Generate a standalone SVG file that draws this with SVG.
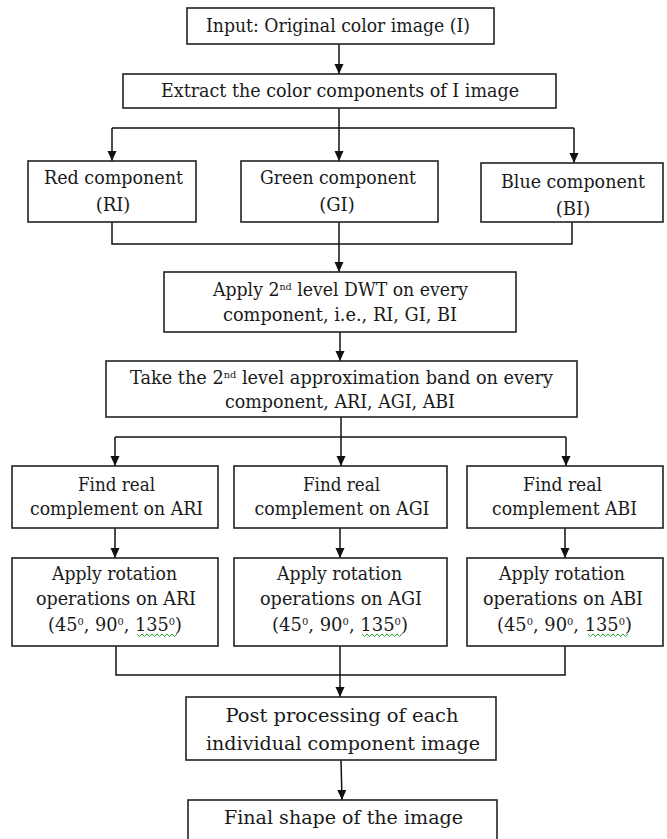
<svg xmlns="http://www.w3.org/2000/svg" width="667" height="839" viewBox="0 0 667 839">
<defs>
<marker id="ah" markerUnits="userSpaceOnUse" markerWidth="10" markerHeight="10" refX="10" refY="4.5" orient="auto">
<path d="M0,0 L10,4.5 L0,9 Z" fill="#111"/>
</marker>
<style>
.box{fill:#fff;stroke:#222;stroke-width:1.6}
.t{font-family:"DejaVu Serif","Liberation Serif",serif;font-size:18px;fill:#1a1a1a;text-anchor:middle}
.c{fill:none;stroke:#111;stroke-width:1.5}
.a{fill:none;stroke:#111;stroke-width:1.5;marker-end:url(#ah)}
.sq{fill:none;stroke:#2ca02c;stroke-width:1}
</style>
</defs>
<rect width="667" height="839" fill="#fff"/>

<g id="connectors">
<line class="a" x1="339" y1="44" x2="339" y2="74"/>
<polyline class="c" points="339,108 339,128"/>
<polyline class="c" points="112,128 574,128"/>
<line class="a" x1="112" y1="128" x2="112" y2="161"/>
<line class="a" x1="339" y1="128" x2="339" y2="161"/>
<line class="a" x1="574" y1="128" x2="574" y2="163"/>
<polyline class="c" points="112,222 112,244 572,244 572,222"/>
<line class="c" x1="339" y1="222" x2="339" y2="244"/>
<line class="a" x1="339" y1="244" x2="339" y2="272"/>
<line class="a" x1="340" y1="332" x2="340" y2="361"/>
<line class="c" x1="341" y1="417" x2="341" y2="437"/>
<line class="c" x1="115" y1="437" x2="566" y2="437"/>
<line class="a" x1="115" y1="437" x2="115" y2="466"/>
<line class="a" x1="341" y1="437" x2="341" y2="466"/>
<line class="a" x1="566" y1="437" x2="566" y2="466"/>
<line class="a" x1="115" y1="528" x2="115" y2="558"/>
<line class="a" x1="340" y1="528" x2="340" y2="558"/>
<line class="a" x1="565" y1="528" x2="565" y2="558"/>
<polyline class="c" points="116,646 116,675 565,675 565,646"/>
<line class="c" x1="340" y1="646" x2="340" y2="675"/>
<line class="a" x1="340" y1="675" x2="340" y2="697"/>
<line class="a" x1="341" y1="760" x2="342" y2="800"/>
</g>

<g id="n1">
<rect class="box" x="187" y="8" width="307" height="36"/>
<text class="t" x="338" y="32" textLength="264" lengthAdjust="spacingAndGlyphs">Input: Original color image (I)</text>
</g>
<g id="n2">
<rect class="box" x="123" y="74" width="433" height="34"/>
<text class="t" x="340" y="97" textLength="358" lengthAdjust="spacingAndGlyphs">Extract the color components of I image</text>
</g>
<g id="n3">
<rect class="box" x="28" y="161" width="168" height="61"/>
<text class="t" x="113.5" y="184" textLength="139" lengthAdjust="spacingAndGlyphs">Red component</text>
<text class="t" x="113" y="211">(RI)</text>
</g>
<g id="n4">
<rect class="box" x="241" y="161" width="197" height="61"/>
<text class="t" x="338" y="184" textLength="156" lengthAdjust="spacingAndGlyphs">Green component</text>
<text class="t" x="337" y="211">(GI)</text>
</g>
<g id="n5">
<rect class="box" x="481" y="163" width="182" height="59"/>
<text class="t" x="573" y="188" textLength="144" lengthAdjust="spacingAndGlyphs">Blue component</text>
<text class="t" x="573" y="215">(BI)</text>
</g>
<g id="n6">
<rect class="box" x="164" y="272" width="352" height="60"/>
<text class="t" x="340.5" y="296" textLength="255" lengthAdjust="spacingAndGlyphs">Apply 2<tspan font-size="10" dy="-6">nd</tspan><tspan dy="6"> level  DWT on every</tspan></text>
<text class="t" x="340" y="321" textLength="234" lengthAdjust="spacingAndGlyphs">component, i.e., RI, GI, BI</text>
</g>
<g id="n7">
<rect class="box" x="106" y="361" width="471" height="56"/>
<text class="t" x="341.5" y="384" textLength="423" lengthAdjust="spacingAndGlyphs">Take the 2<tspan font-size="10" dy="-6">nd</tspan><tspan dy="6"> level  approximation  band on every</tspan></text>
<text class="t" x="340" y="408" textLength="230" lengthAdjust="spacingAndGlyphs">component, ARI, AGI, ABI</text>
</g>
<g id="n8">
<rect class="box" x="12" y="466" width="206" height="62"/>
<text class="t" x="116.5" y="491" textLength="77" lengthAdjust="spacingAndGlyphs">Find real</text>
<text class="t" x="116.5" y="515" textLength="173" lengthAdjust="spacingAndGlyphs">complement on ARI</text>
</g>
<g id="n9">
<rect class="box" x="234" y="466" width="213" height="62"/>
<text class="t" x="341.5" y="491" textLength="77" lengthAdjust="spacingAndGlyphs">Find real</text>
<text class="t" x="342" y="515" textLength="175" lengthAdjust="spacingAndGlyphs">complement on AGI</text>
</g>
<g id="n10">
<rect class="box" x="467" y="466" width="196" height="62"/>
<text class="t" x="562.5" y="491" textLength="79" lengthAdjust="spacingAndGlyphs">Find real</text>
<text class="t" x="564.5" y="515" textLength="145" lengthAdjust="spacingAndGlyphs">complement ABI</text>
</g>
<g id="n11">
<rect class="box" x="12" y="558" width="206" height="88"/>
<text class="t" x="114.5" y="580" textLength="125" lengthAdjust="spacingAndGlyphs">Apply rotation</text>
<text class="t" x="116" y="605" textLength="160" lengthAdjust="spacingAndGlyphs">operations on ARI</text>
<text class="t" x="115" y="631" textLength="134" lengthAdjust="spacingAndGlyphs">(45<tspan font-size="10" dy="-6">0</tspan><tspan dy="6">, 90</tspan><tspan font-size="10" dy="-6">0</tspan><tspan dy="6">,  135</tspan><tspan font-size="10" dy="-6">0</tspan><tspan dy="6">)</tspan></text>
<path class="sq" d="M137,634 l2.5,2.5 l2.5,-2.5 l2.5,2.5 l2.5,-2.5 l2.5,2.5 l2.5,-2.5 l2.5,2.5 l2.5,-2.5 l2.5,2.5 l2.5,-2.5 l2.5,2.5 l2.5,-2.5 l2.5,2.5 l2.5,-2.5 l2.5,2.5 l2.5,-2.5"/>
</g>
<g id="n12">
<rect class="box" x="234" y="558" width="213" height="88"/>
<text class="t" x="339.5" y="580" textLength="125" lengthAdjust="spacingAndGlyphs">Apply rotation</text>
<text class="t" x="341" y="605" textLength="162" lengthAdjust="spacingAndGlyphs">operations on AGI</text>
<text class="t" x="340" y="631" textLength="136" lengthAdjust="spacingAndGlyphs">(45<tspan font-size="10" dy="-6">0</tspan><tspan dy="6">, 90</tspan><tspan font-size="10" dy="-6">0</tspan><tspan dy="6">,  135</tspan><tspan font-size="10" dy="-6">0</tspan><tspan dy="6">)</tspan></text>
<path class="sq" d="M362,634 l2.5,2.5 l2.5,-2.5 l2.5,2.5 l2.5,-2.5 l2.5,2.5 l2.5,-2.5 l2.5,2.5 l2.5,-2.5 l2.5,2.5 l2.5,-2.5 l2.5,2.5 l2.5,-2.5 l2.5,2.5 l2.5,-2.5 l2.5,2.5 l2.5,-2.5"/>
</g>
<g id="n13">
<rect class="box" x="467" y="558" width="196" height="88"/>
<text class="t" x="562" y="580" textLength="126" lengthAdjust="spacingAndGlyphs">Apply rotation</text>
<text class="t" x="563" y="605" textLength="160" lengthAdjust="spacingAndGlyphs">operations on ABI</text>
<text class="t" x="564.5" y="631" textLength="135" lengthAdjust="spacingAndGlyphs">(45<tspan font-size="10" dy="-6">0</tspan><tspan dy="6">, 90</tspan><tspan font-size="10" dy="-6">0</tspan><tspan dy="6">,  135</tspan><tspan font-size="10" dy="-6">0</tspan><tspan dy="6">)</tspan></text>
<path class="sq" d="M588,634 l2.5,2.5 l2.5,-2.5 l2.5,2.5 l2.5,-2.5 l2.5,2.5 l2.5,-2.5 l2.5,2.5 l2.5,-2.5 l2.5,2.5 l2.5,-2.5 l2.5,2.5 l2.5,-2.5 l2.5,2.5 l2.5,-2.5 l2.5,2.5 l2.5,-2.5"/>
</g>
<g id="n14">
<rect class="box" x="186" y="697" width="310" height="63"/>
<text class="t" x="342" y="722" textLength="233" lengthAdjust="spacingAndGlyphs">Post processing of each</text>
<text class="t" x="343" y="750" textLength="274" lengthAdjust="spacingAndGlyphs">individual component image</text>
</g>
<g id="n15">
<rect class="box" x="188" y="800" width="309" height="50"/>
<text class="t" x="343.5" y="824" textLength="239" lengthAdjust="spacingAndGlyphs">Final shape of the image</text>
</g>
</svg>
